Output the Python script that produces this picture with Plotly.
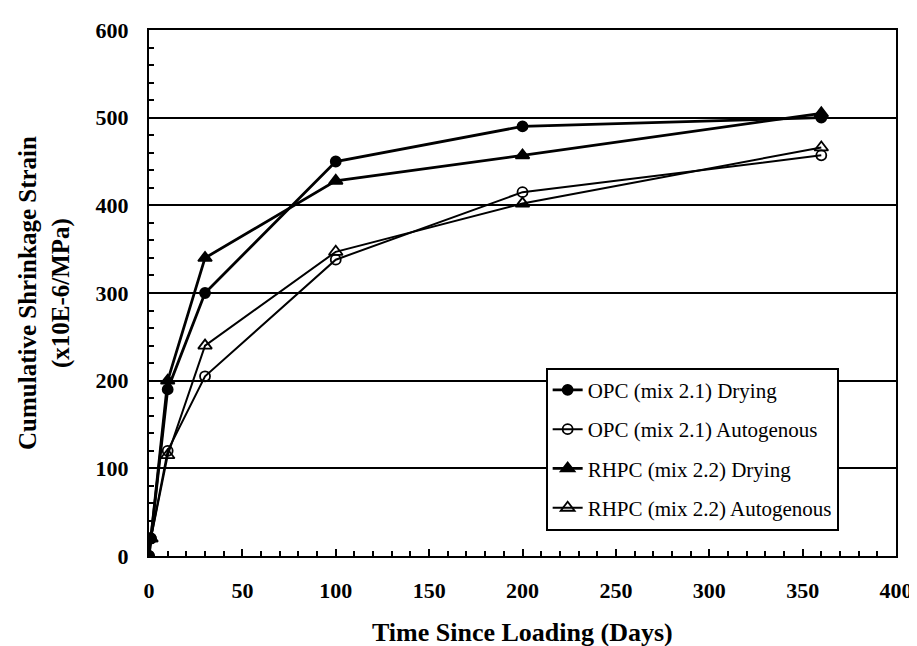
import plotly.graph_objects as go

days = [0, 1, 10, 30, 100, 200, 360]
opc_drying = [0, 20, 190, 300, 450, 490, 500]
opc_autog = [0, 20, 120, 205, 338, 415, 457]
rhpc_drying = [0, 20, 200, 340, 428, 457, 505]
rhpc_autog = [0, 20, 115, 240, 347, 402, 466]

x_ticks = [0, 50, 100, 150, 200, 250, 300, 350, 400]
y_ticks = [0, 100, 200, 300, 400, 500, 600]

series = [
    ("OPC (mix 2.1) Drying", opc_drying, "circle", 2.8, 10),
    ("OPC (mix 2.1) Autogenous", opc_autog, "circle-open", 2, 10),
    ("RHPC (mix 2.2) Drying", rhpc_drying, "triangle-up", 2.8, 12),
    ("RHPC (mix 2.2) Autogenous", rhpc_autog, "triangle-up-open", 2, 12),
]

fig = go.Figure()
for i, (name, vals, sym, lw, ms) in enumerate(series):
    fig.add_trace(go.Scatter(
        x=days, y=vals, mode="lines+markers", name=name,
        legendgroup="g%d" % i,
        line=dict(color="black", width=lw),
        marker=dict(symbol=sym, size=ms, color="black",
                    line=dict(color="black", width=1.8)),
    ))

FAM = "Liberation Serif, Times New Roman, serif"

fig.update_layout(
    width=917, height=646,
    margin=dict(l=141, r=29, t=22, b=98, autoexpand=False),
    paper_bgcolor="white", plot_bgcolor="white",
    font=dict(family=FAM, color="black", size=18),
    showlegend=True,
    legend=dict(x=0.531, y=0.358, xanchor="left", yanchor="top",
                bgcolor="white", bordercolor="black", borderwidth=2,
                font=dict(family=FAM, color="black", size=21),
                tracegroupgap=9),
    annotations=[
        dict(text="Time Since Loading (Days)", xref="paper", yref="paper",
             x=0.5, y=0, yshift=-76, xanchor="center", yanchor="middle",
             showarrow=False, font=dict(family=FAM, size=26, color="black", weight="bold")),
        dict(text="Cumulative Shrinkage Strain<br>(x10E-6/MPa)", xref="paper", yref="paper",
             x=0, y=0.5, xshift=-105, xanchor="center", yanchor="middle", textangle=-90,
             showarrow=False, font=dict(family=FAM, size=25, color="black", weight="bold")),
    ],
)
fig.update_xaxes(
    range=[0, 400], tickvals=x_ticks, ticktext=[str(v) for v in x_ticks],
    showgrid=False, zeroline=False, automargin=False,
    showline=True, linecolor="black", linewidth=2, mirror=True,
    ticks="inside", ticklen=7, tickcolor="black", tickwidth=1.5,
    minor=dict(dtick=10, ticks="inside", ticklen=5, tickcolor="black"),
    tickfont=dict(family=FAM, size=22, color="black", weight="bold"),
    ticklabelstandoff=14,
)
fig.update_yaxes(
    range=[0, 600], tickvals=y_ticks, ticktext=[str(v) for v in y_ticks],
    showgrid=True, gridcolor="black", gridwidth=2.2, zeroline=False, automargin=False,
    showline=True, linecolor="black", linewidth=2, mirror=True,
    ticks="inside", ticklen=7, tickcolor="black", tickwidth=1.5,
    minor=dict(dtick=20, ticks="inside", ticklen=5, tickcolor="black", showgrid=False),
    tickfont=dict(family=FAM, size=22, color="black", weight="bold"),
    ticklabelstandoff=14,
)

fig.write_html("out.html")
